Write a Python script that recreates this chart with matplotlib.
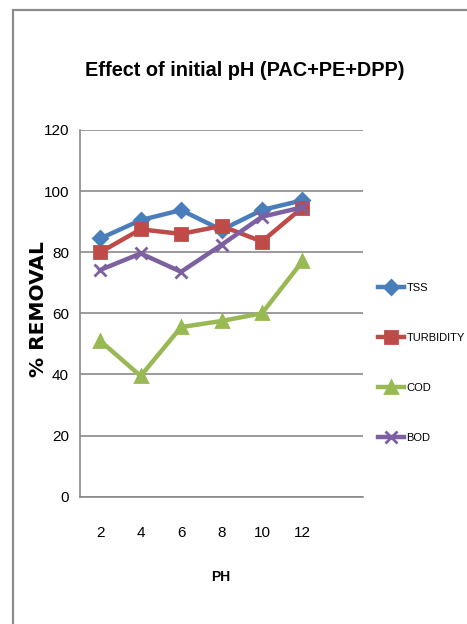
import matplotlib
matplotlib.use("Agg")
import matplotlib.pyplot as plt
from matplotlib import font_manager
from matplotlib.lines import Line2D
from matplotlib.patches import Rectangle

# pH values tested and % removal for each parameter
ph_labels = ["2", "4", "6", "8", "10", "12"]
tss = [84.5, 90.5, 93.8, 87.3, 93.8, 97.0]
turbidity = [80.0, 87.5, 86.0, 88.6, 83.5, 94.6]
cod = [51.0, 39.5, 55.5, 57.5, 60.0, 77.0]
bod = [74.2, 79.6, 73.6, 82.4, 91.6, 94.7]

# prefer a narrow face when one is installed, else an Arial-metric sans
installed = {f.name for f in font_manager.fontManager.ttflist}
narrow_face = "Liberation Sans Narrow" if "Liberation Sans Narrow" in installed else "Liberation Sans"
narrow = [narrow_face, "DejaVu Sans"]
is_narrow = narrow_face.endswith("Narrow")

fig = plt.figure(figsize=(4.67, 6.24), dpi=100)
fig.patch.set_facecolor("white")

# outer chart frame (top and left edges visible)
fig.patches.append(Rectangle((12.5 / 467, -0.05), 1.2, 1 - 10 / 624 + 0.05,
                             transform=fig.transFigure, fill=False,
                             edgecolor="#8c8c8c", linewidth=1.6))

ax = fig.add_axes([80 / 467, (624 - 496.7) / 624, 283 / 467, 366.7 / 624])

x = list(range(len(ph_labels)))
series = [
    ("TSS", tss, "#4A7EBB", "D", 7),
    ("TURBIDITY", turbidity, "#BE4B48", "s", 9),
    ("COD", cod, "#98B954", "^", 9),
    ("BOD", bod, "#7D60A0", "x", 8),
]

handles = []
for name, vals, color, marker, ms in series:
    ax.plot(x, vals, color=color, linewidth=3.2, marker=marker, markersize=ms,
            markerfacecolor=color, markeredgecolor=color, markeredgewidth=2,
            zorder=3)
    handles.append(Line2D([], [], color=color, linewidth=3.2, marker=marker,
                          markersize=ms, markerfacecolor=color,
                          markeredgecolor=color, markeredgewidth=2))

ax.set_xlim(-0.5, 6.5)
ax.set_ylim(0, 120)
ax.set_yticks(range(0, 121, 20))
ax.set_xticks(x)
ax.set_xticklabels(ph_labels)
ax.grid(axis="y", color="#8a8a8a", linewidth=1.2)
ax.set_axisbelow(True)
for side in ["top", "right"]:
    ax.spines[side].set_visible(False)
for side in ["left", "bottom"]:
    ax.spines[side].set_color("#8a8a8a")
    ax.spines[side].set_linewidth(1.2)
ax.tick_params(axis="both", length=0)
ax.tick_params(axis="y", pad=8)
ax.tick_params(axis="x", pad=21)
tick_size = 12 if is_narrow else 11
for lbl in ax.get_xticklabels() + ax.get_yticklabels():
    lbl.set_fontfamily(narrow)
    lbl.set_fontsize(tick_size)

fig.text(221 / 467, 1 - 577 / 624, "PH", ha="center", va="center",
         fontsize=10, fontweight="bold", family=narrow)
fig.text(38 / 467, 1 - 309 / 624, "% REMOVAL", ha="center", va="center",
         rotation=90, fontsize=14.5, fontweight="bold", family="DejaVu Sans")

fig.text(245 / 467, 1 - 71 / 624, "Effect of initial pH (PAC+PE+DPP)",
         ha="center", va="center", fontsize=19 if is_narrow else 14.3,
         fontweight="bold", family=narrow)

leg = fig.legend(handles, [s[0] for s in series], loc="upper left",
                 bbox_to_anchor=(378 / 467, 1 - 283 / 624), frameon=False,
                 handlelength=2.3, handletextpad=0.25, labelspacing=3.6,
                 borderpad=0, borderaxespad=0,
                 prop={"family": narrow, "size": 10 if is_narrow else 8})

fig.savefig("out.png", dpi=100, facecolor="white")
